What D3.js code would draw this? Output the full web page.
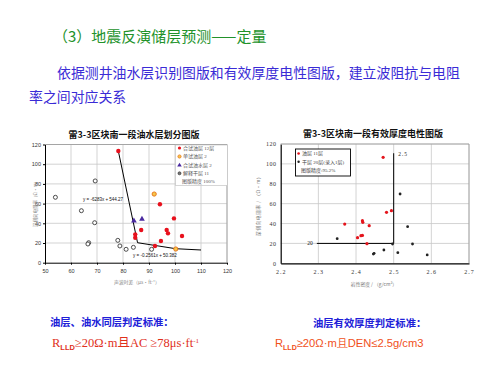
<!DOCTYPE html>
<html><head><meta charset="utf-8">
<script src="https://cdn.jsdelivr.net/npm/d3@7"></script>
<style>body{margin:0;background:#fff}svg{display:block}</style>
</head><body>
<script>
// ---- data: left chart (油水层划分图版) ----
const leftXTicks = [50,60,70,80,90,100,110,120];
const leftYTicks = [0,20,40,60,80,100,120];
const leftRed = [[78.2,113.4],[94.2,59.3],[99.6,45],[87,33.2],[96.8,33.2],[97.3,29.8],[84.7,28.8],[84.7,25.4],[102.7,27.1],[94.6,22],[92.3,17]];
const leftOrange = [[92,69.7],[100.3,13.9]];
const leftPurple = [[84.2,42.6],[87.3,44.3]];
const leftOpen = [[54,66.4],[69.3,83],[64,52.8],[69.1,40.6],[66.8,20.3],[66.5,19],[78,22.7],[78.8,17],[81.2,13.6],[84,15.6],[91,13.6]];
const leftLine1 = [[78.2,113.4],[85.6,20.3]];
const leftLine2 = [[85.6,20.3],[100.3,14.2],[110,12.9]];
const leftLegend = ["合试油层 12层","单试油层 2","合试油水层 2","解释干层 11","图版精度 100%"];
// ---- data: right chart (有效厚度电性图版) ----
const rightXTicks = [2.2,2.3,2.4,2.5,2.6,2.7];
const rightYTicks = [0,20,40,60,80,100,120];
const rightRed = [[2.472,106.6],[2.481,51.3],[2.494,52.9],[2.417,42.9],[2.418,41.2],[2.435,37.8],[2.370,39.5],[2.404,25.8],[2.413,27.8],[2.417,28.0],[2.429,19.7]];
const rightBlack = [[2.517,69.7],[2.537,36.8],[2.350,24.8],[2.497,19.4],[2.550,19.4],[2.448,10],[2.446,9.3],[2.474,13.4],[2.511,10.7],[2.589,8.4]];
const rightCutLine = [[2.296,20],[2.5,20],[2.5,110.7]];
const rightLegend = ["油层 11层","干层 20层(录入1层)","图版精度:95.2%"];

const svg = d3.select("body").append("svg").attr("width",500).attr("height",375);
const CJK = "'Noto Sans CJK SC','Noto Sans',sans-serif";
const SERIF = "'Liberation Serif','Noto Sans CJK SC',serif";

// ---- header texts ----
svg.append("text").attr("x",53).attr("y",42).attr("font-family",CJK).attr("font-size",15)
  .attr("fill","#22922a").text("（3）地震反演储层预测——定量");
svg.append("text").attr("x",57).attr("y",78).attr("font-family",CJK).attr("font-size",13.9)
  .attr("fill","#3a2bd6").text("依据测井油水层识别图版和有效厚度电性图版，建立波阻抗与电阻");
svg.append("text").attr("x",29).attr("y",102).attr("font-family",CJK).attr("font-size",13.9)
  .attr("fill","#3a2bd6").text("率之间对应关系");

// ================= LEFT CHART =================
const xL = d3.scaleLinear().domain([50,120]).range([45,227]);
const yL = d3.scaleLinear().domain([0,120]).range([262.7,144.5]);
const gL = svg.append("g");
gL.append("text").attr("x",134).attr("y",138).attr("text-anchor","middle").attr("font-family",CJK)
  .attr("font-size",9).attr("font-weight","bold").attr("fill","#111").text("雷3-3区块南一段油水层划分图版");
gL.selectAll(".vg").data(leftXTicks.slice(1)).enter().append("line")
  .attr("x1",d=>xL(d)).attr("x2",d=>xL(d)).attr("y1",yL(0)).attr("y2",yL(120)).attr("stroke","#c8c8c8").attr("stroke-width",0.8);
gL.selectAll(".hg").data(leftYTicks.slice(1)).enter().append("line")
  .attr("x1",xL(50)).attr("x2",xL(120)).attr("y1",d=>yL(d)).attr("y2",d=>yL(d)).attr("stroke","#c8c8c8").attr("stroke-width",0.8);
const axLx = d3.axisBottom(xL).tickValues(leftXTicks).tickSize(2).tickSizeOuter(0);
const axLy = d3.axisLeft(yL).tickValues(leftYTicks).tickSize(2).tickSizeOuter(0);
gL.append("g").attr("transform",`translate(0,${yL(0)})`).call(axLx)
  .call(g=>{g.select(".domain").attr("stroke","#000");g.selectAll("text").attr("font-size",5.5).attr("fill","#333").attr("font-family","Arial,sans-serif").attr("dy","0.9em");});
gL.append("g").attr("transform",`translate(${xL(50)},0)`).call(axLy)
  .call(g=>{g.select(".domain").attr("stroke","#000");g.selectAll("text").attr("font-size",5.5).attr("fill","#333").attr("font-family","Arial,sans-serif").attr("x",-4);});
gL.append("text").attr("transform",`translate(37,203) rotate(-90)`).attr("text-anchor","middle")
  .attr("font-family",CJK).attr("font-size",4.5).attr("fill","#888").text("深侧向电阻率（Ω·m）");
gL.append("text").attr("x",137).attr("y",284).attr("text-anchor","middle")
  .attr("font-family",CJK).attr("font-size",4.8).attr("fill","#888").text("声波时差（μs·ft⁻¹）");
const lineL = d3.line().x(d=>xL(d[0])).y(d=>yL(d[1]));
gL.append("path").attr("d",lineL(leftLine1)).attr("fill","none").attr("stroke","#000").attr("stroke-width",1);
gL.append("path").attr("d",lineL(leftLine2)).attr("fill","none").attr("stroke","#000").attr("stroke-width",1);
gL.append("text").attr("x",83).attr("y",200.5).attr("font-family","Arial,sans-serif").attr("font-size",4.5).attr("fill","#111").text("y = -6283x + 544.27");
gL.append("text").attr("x",133).attr("y",256.5).attr("font-family","Arial,sans-serif").attr("font-size",4.5).attr("fill","#111").text("y = -0.2561x + 50.382");
gL.selectAll(".op").data(leftOpen).enter().append("circle").attr("cx",d=>xL(d[0])).attr("cy",d=>yL(d[1])).attr("r",2)
  .attr("fill","#fff").attr("stroke","#222").attr("stroke-width",0.8);
gL.selectAll(".rp").data(leftRed).enter().append("circle").attr("cx",d=>xL(d[0])).attr("cy",d=>yL(d[1])).attr("r",2.2)
  .attr("fill","#e8101c");
gL.selectAll(".orp").data(leftOrange).enter().append("circle").attr("cx",d=>xL(d[0])).attr("cy",d=>yL(d[1])).attr("r",2.1)
  .attr("fill","#f5c74a").attr("stroke","#e8781c").attr("stroke-width",1);
const tri = d3.symbol().type(d3.symbolTriangle).size(14);
gL.selectAll(".tp").data(leftPurple).enter().append("path").attr("d",tri)
  .attr("transform",d=>`translate(${xL(d[0])},${yL(d[1])})`).attr("fill","#4a2aa0");
gL.append("line").attr("x1",xL(50)).attr("x2",xL(120)).attr("y1",yL(120)).attr("y2",yL(120)).attr("stroke","#999").attr("stroke-width",0.8);
gL.append("line").attr("x1",xL(120)).attr("x2",xL(120)).attr("y1",yL(120)).attr("y2",yL(0)).attr("stroke","#999").attr("stroke-width",0.8);
const lgL = gL.append("g");
lgL.append("rect").attr("x",175.5).attr("y",145).attr("width",52).attr("height",40.5).attr("fill","#fff").attr("stroke","#bbb").attr("stroke-width",0.6);
const lgRows = [148,156.5,165.3,173.3,181.5];
lgL.append("circle").attr("cx",179.5).attr("cy",lgRows[0]).attr("r",1.6).attr("fill","#e8101c");
lgL.append("circle").attr("cx",179.5).attr("cy",lgRows[1]).attr("r",1.6).attr("fill","#f5c74a").attr("stroke","#e8781c").attr("stroke-width",0.8);
lgL.append("path").attr("d",d3.symbol().type(d3.symbolTriangle).size(9)).attr("transform",`translate(179.5,${lgRows[2]})`).attr("fill","#4a2aa0");
lgL.append("circle").attr("cx",179.5).attr("cy",lgRows[3]).attr("r",1.5).attr("fill","#777").attr("stroke","#222").attr("stroke-width",0.6);
lgL.selectAll(".lt").data(leftLegend).enter().append("text").attr("x",(d,i)=>i===4?182:183)
  .attr("y",(d,i)=>lgRows[i]+1.8).attr("font-family",SERIF).attr("font-size",5).attr("fill","#555").text(d=>d);

// ================= RIGHT CHART =================
const xR = d3.scaleLinear().domain([2.2,2.7]).range([280.7,469]);
const yR = d3.scaleLinear().domain([0,120]).range([263.3,144]);
const gR = svg.append("g");
gR.append("text").attr("x",373).attr("y",137).attr("text-anchor","middle").attr("font-family",CJK)
  .attr("font-size",9).attr("font-weight","bold").attr("fill","#111").text("雷3-3区块南一段有效厚度电性图版");
gR.selectAll(".vg").data(rightXTicks.slice(1)).enter().append("line")
  .attr("x1",d=>xR(d)).attr("x2",d=>xR(d)).attr("y1",yR(0)).attr("y2",yR(120)).attr("stroke","#c8c8c8").attr("stroke-width",0.8);
gR.selectAll(".hg").data(rightYTicks.slice(1)).enter().append("line")
  .attr("x1",xR(2.2)).attr("x2",xR(2.7)).attr("y1",d=>yR(d)).attr("y2",d=>yR(d)).attr("stroke","#c8c8c8").attr("stroke-width",0.8);
const axRx = d3.axisBottom(xR).tickValues(rightXTicks).tickFormat(d3.format(".1f")).tickSize(0).tickSizeOuter(0);
const axRy = d3.axisLeft(yR).tickValues(rightYTicks).tickSize(0).tickSizeOuter(0);
gR.append("g").attr("transform",`translate(0,${yR(0)})`).call(axRx)
  .call(g=>{g.select(".domain").attr("stroke","#000").attr("stroke-width",1.2);g.selectAll("text").attr("font-size",6).attr("fill","#333").attr("font-family",SERIF).attr("letter-spacing",1).attr("dy","1.3em");});
gR.append("g").attr("transform",`translate(${xR(2.2)},0)`).call(axRy)
  .call(g=>{g.select(".domain").attr("stroke","#000").attr("stroke-width",1.2);g.selectAll("text").attr("font-size",6).attr("fill","#333").attr("font-family",SERIF).attr("letter-spacing",0.6).attr("x",-4);});
gR.append("line").attr("x1",xR(2.2)).attr("x2",xR(2.7)).attr("y1",yR(120)).attr("y2",yR(120)).attr("stroke","#999").attr("stroke-width",0.8);
gR.append("line").attr("x1",xR(2.7)).attr("x2",xR(2.7)).attr("y1",yR(120)).attr("y2",yR(0)).attr("stroke","#999").attr("stroke-width",0.8);
gR.append("text").attr("transform",`translate(260,205) rotate(-90)`).attr("text-anchor","middle")
  .attr("font-family",CJK).attr("font-size",4.8).attr("fill","#777").attr("letter-spacing",0.5).text("深侧向电阻率 / （Ω·m）");
gR.append("text").attr("x",374).attr("y",286).attr("text-anchor","middle")
  .attr("font-family",CJK).attr("font-size",4.8).attr("fill","#777").text("岩性密度 / （g/cm³）");
const lineR = d3.line().x(d=>xR(d[0])).y(d=>yR(d[1]));
gR.append("path").attr("d",lineR(rightCutLine)).attr("fill","none").attr("stroke","#000").attr("stroke-width",1);
gR.append("text").attr("x",xR(2.278)).attr("y",yR(20)+2).attr("text-anchor","middle").attr("font-family",SERIF).attr("font-size",5.5).attr("fill","#222").text("20");
gR.append("text").attr("x",xR(2.512)).attr("y",yR(110)+2).attr("font-family",SERIF).attr("font-size",5.5).attr("fill","#222").attr("letter-spacing",1).text("2.5");
gR.selectAll(".bp").data(rightBlack).enter().append("circle").attr("cx",d=>xR(d[0])).attr("cy",d=>yR(d[1])).attr("r",1.4).attr("fill","#222");
gR.selectAll(".rp").data(rightRed).enter().append("circle").attr("cx",d=>xR(d[0])).attr("cy",d=>yR(d[1])).attr("r",1.6).attr("fill","#e4141c");
const lgR = gR.append("g");
lgR.append("rect").attr("x",295.5).attr("y",149).attr("width",55).attr("height",27).attr("fill","#fff").attr("stroke","#000").attr("stroke-width",0.9);
const lgRRows = [153.5,161.7,170.3];
lgR.append("circle").attr("cx",298.6).attr("cy",lgRRows[0]).attr("r",1.3).attr("fill","#e4141c");
lgR.append("circle").attr("cx",298.6).attr("cy",lgRRows[1]).attr("r",1.2).attr("fill","#222");
lgR.selectAll(".lt").data(rightLegend).enter().append("text").attr("x",(d,i)=>i===2?301:302)
  .attr("y",(d,i)=>lgRRows[i]+1.8).attr("font-family",SERIF).attr("font-size",5).attr("fill","#444").text(d=>d);

// ---- bottom criteria ----
svg.append("text").attr("x",50).attr("y",325.5).attr("font-family",CJK).attr("font-size",10.3).attr("font-weight","bold")
  .attr("fill","#2020d8").text("油层、油水同层判定标准：");
const t1 = svg.append("text").attr("x",52).attr("y",347).attr("font-family",SERIF).attr("font-size",12.5).attr("fill","#e0301c");
t1.append("tspan").text("R");
t1.append("tspan").attr("font-size",7.5).attr("font-family","Arial,sans-serif").attr("font-weight","bold").attr("dy",2.5).text("LLD");
t1.append("tspan").attr("dy",-2.5).text("≥20Ω·m且AC ≥78μs·ft");
t1.append("tspan").attr("font-size",7).attr("dy",-4).text("-1");
svg.append("text").attr("x",313).attr("y",327).attr("font-family",CJK).attr("font-size",10.3).attr("font-weight","bold")
  .attr("fill","#2020d8").text("油层有效厚度判定标准：");
const t2 = svg.append("text").attr("x",275).attr("y",347).attr("font-family","'Liberation Sans',Arial,sans-serif").attr("font-size",11.2).attr("fill","#f0501a");
t2.append("tspan").text("R");
t2.append("tspan").attr("font-size",7).attr("font-weight","bold").attr("dy",2.5).text("LLD");
t2.append("tspan").attr("dy",-2.5).text("≥20Ω·m且DEN≤2.5g/cm3");
</script>
</body></html>
